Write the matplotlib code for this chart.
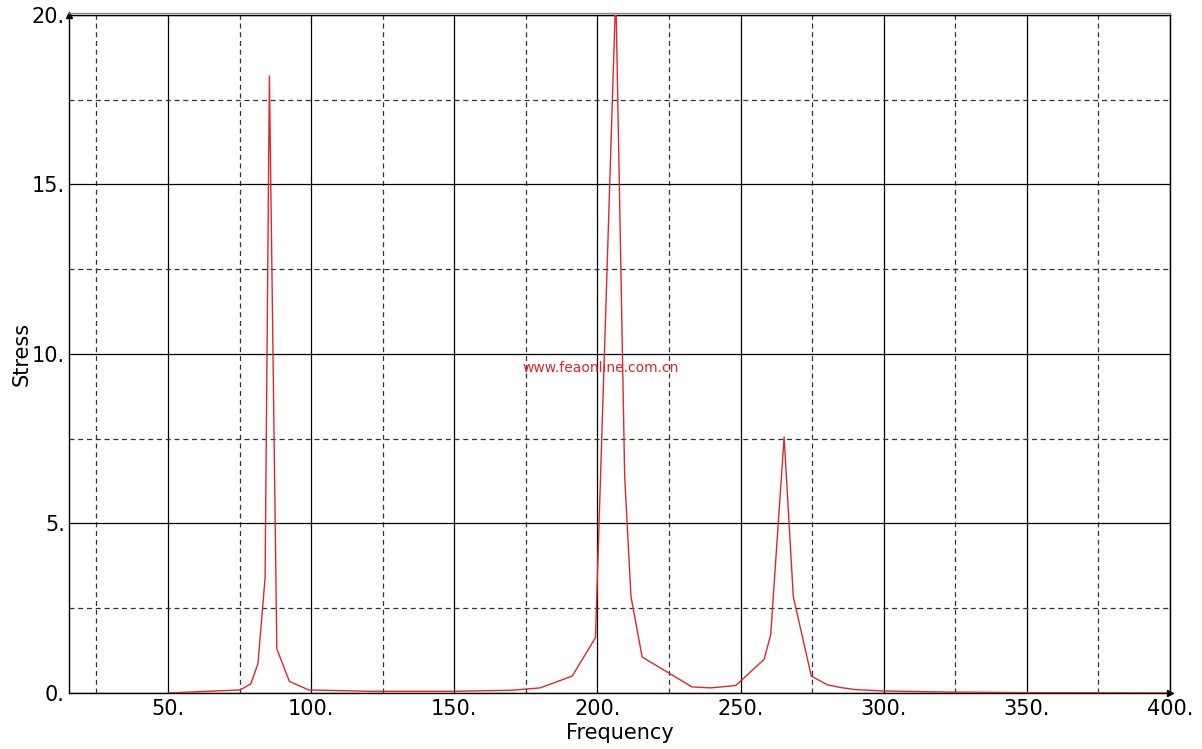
import matplotlib
matplotlib.use("Agg")
import matplotlib.pyplot as plt
from matplotlib.ticker import MultipleLocator, FixedLocator

# frequency response
freq = [50, 75.2, 78.9, 81.4, 83.9, 85.4, 88.0, 92.4, 99.1, 120, 150, 170, 180,
        191.2, 199.3, 206.4, 209.5, 211.7, 215.6, 233, 239.5, 248.3, 258.2, 260.5,
        265.2, 268.4, 274.7, 280.3, 285, 290, 300, 320, 350, 400]
stress = [0.0, 0.09, 0.27, 0.86, 3.4, 18.2, 1.3, 0.34, 0.09, 0.05, 0.05, 0.08, 0.15,
          0.5, 1.63, 20.7, 6.4, 2.85, 1.06, 0.18, 0.15, 0.22, 0.99, 1.71,
          7.55, 2.84, 0.5, 0.24, 0.16, 0.1, 0.06, 0.03, 0.01, 0.0]

x_ticks = [50, 100, 150, 200, 250, 300, 350, 400]
y_ticks = [0, 5, 10, 15, 20]
watermark = "www.feaonline.com.cn"

fig = plt.figure(figsize=(12.02, 7.49), dpi=100)
ax = fig.add_axes([0.0574, 0.0748, 0.9160, 0.9052])

ax.plot(freq, stress, color="#e0262b", lw=1.0, zorder=3)

ax.set_xlim(15.4, 400)
ax.set_ylim(0, 20)

ax.xaxis.set_major_locator(FixedLocator(x_ticks))
ax.yaxis.set_major_locator(FixedLocator(y_ticks))
ax.xaxis.set_minor_locator(FixedLocator([25, 75, 125, 175, 225, 275, 325, 375]))
ax.yaxis.set_minor_locator(MultipleLocator(2.5))
ax.set_xticklabels([f"{t}." for t in x_ticks])
ax.set_yticklabels([f"{t}." for t in y_ticks])

ax.grid(which="major", color="black", lw=0.9, ls="-", zorder=1)
ax.grid(which="minor", color="#333333", lw=0.9, ls=(0, (4, 3)), zorder=1)
ax.tick_params(which="both", length=0, labelsize=15, pad=3)
ax.tick_params(axis="x", pad=4)

for s in ax.spines.values():
    s.set_color("black")
    s.set_linewidth(1.0)

# grey double line above the top border
fig.add_artist(plt.Line2D([0.0574, 0.9734], [0.9830, 0.9830], color="#888888", lw=1.0))

# little arrowheads at the axis ends
ax.plot([15.4], [20], marker="^", ms=4, color="black", clip_on=False, zorder=4)
ax.plot([400], [0], marker=">", ms=4, color="black", clip_on=False, zorder=4)

ax.set_xlabel("Frequency", fontsize=15, labelpad=3)
ax.set_ylabel("Stress", fontsize=15, labelpad=0)

ax.text(201, 9.6, watermark, color="#e0262b", fontsize=10,
        ha="center", va="center", zorder=2)

fig.savefig("out.png", dpi=100)
